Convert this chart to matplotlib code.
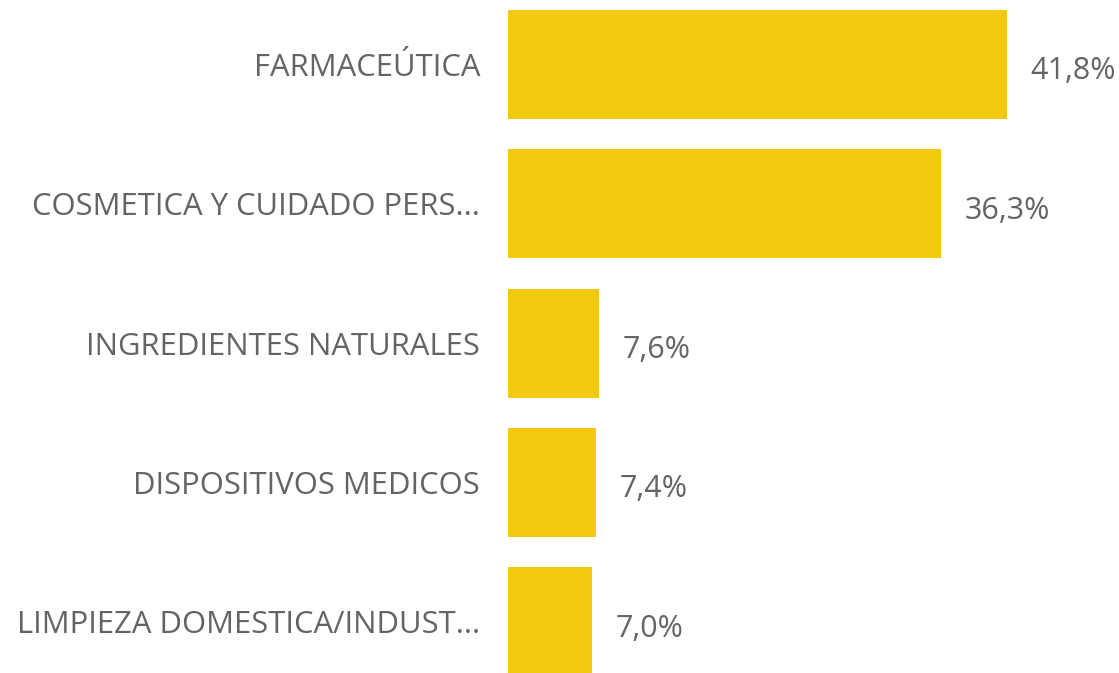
import matplotlib
matplotlib.use("Agg")
import matplotlib.pyplot as plt

categories = ["FARMACEÚTICA", "COSMETICA Y CUIDADO PERS...", "INGREDIENTES NATURALES",
              "DISPOSITIVOS MEDICOS", "LIMPIEZA DOMESTICA/INDUST..."]
values = [41.8, 36.3, 7.6, 7.4, 7.0]
value_labels = ["41,8%", "36,3%", "7,6%", "7,4%", "7,0%"]

W, H = 1119, 673
fig = plt.figure(figsize=(W / 100, H / 100), dpi=100)
left_px = 508
ax = fig.add_axes([left_px / W, 0, 1 - left_px / W, 1])

pos = list(range(len(categories)))
bars = ax.barh(pos, values, height=0.783, color="#F2C811")

px_per_unit = 11.94
ax.set_xlim(0, (W - left_px) / px_per_unit)
row_px = 139.3
ax.set_ylim(4 + (673 - 621.8) / row_px, -64.5 / row_px)

font = "Open Sans"
ax.set_yticks(pos)
ax.set_yticklabels(categories, fontsize=22.3, color="#646464", family=font)
ax.tick_params(axis="y", length=0, pad=20)
ax.set_xticks([])
for s in ax.spines.values():
    s.set_visible(False)

for p, v, lab in zip(pos, values, value_labels):
    ax.annotate(lab, xy=(v, p), xytext=(17, -5), textcoords="offset points",
                ha="left", va="center", fontsize=22, color="#646464", family=font)

fig.savefig("out.png", dpi=100)
